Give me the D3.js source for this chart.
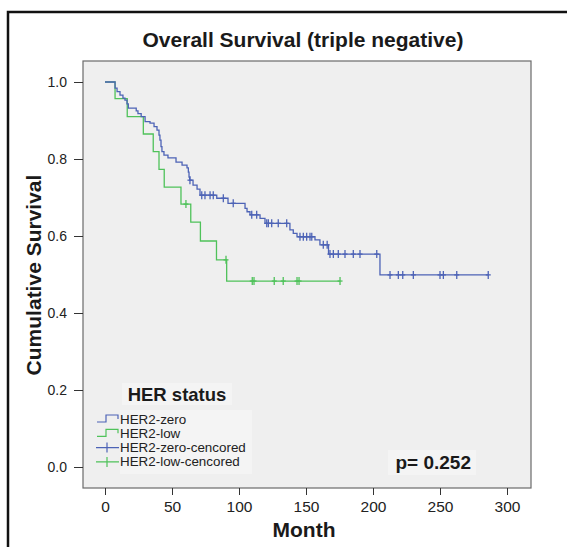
<!DOCTYPE html>
<html>
<head>
<meta charset="utf-8">
<script src="https://cdn.jsdelivr.net/npm/d3@7"></script>
<style>
  html, body { margin: 0; padding: 0; background: #fff; }
  svg { display: block; font-family: "Liberation Sans", Arial, Helvetica, sans-serif; }
  .axis text { fill: #222; }
  .axis line { stroke: #333; }
</style>
</head>
<body>
<svg id="chart" width="567" height="547"></svg>
<script>
"use strict";

// Kaplan-Meier steps: [month, cumulative survival]
const zeroSteps = [
  [0, 1.0], [7.5, 0.984], [9, 0.975], [11.2, 0.966], [13.4, 0.958], [14.9, 0.953],
  [16.4, 0.943], [17.4, 0.932], [23.3, 0.925], [24.6, 0.918], [27, 0.91], [29.9, 0.897],
  [33.6, 0.893], [36.6, 0.884], [38.8, 0.875], [40.3, 0.862], [41, 0.849], [41.8, 0.832],
  [42.5, 0.819], [44, 0.81], [47, 0.803], [53, 0.792], [57.5, 0.784], [61.2, 0.777],
  [62.2, 0.766], [62.7, 0.753], [63.2, 0.745], [65.7, 0.732], [68.7, 0.722], [70.9, 0.706],
  [83.4, 0.698], [91.8, 0.685], [104.5, 0.672], [106, 0.663], [108.2, 0.655], [115.7, 0.646],
  [119.4, 0.633], [138, 0.616], [140.5, 0.607], [143.3, 0.598], [156.7, 0.59], [160.4, 0.577],
  [166.8, 0.553], [205.2, 0.499]
];
const zeroEnd = 286;
const zeroCensored = [
  63.4, 72.2, 74.6, 78.4, 80.8, 88.3, 95.7, 109.5, 113.2, 120.7, 121.9, 124.4, 129.3,
  135.6, 145.5, 148, 150.5, 153, 154.3, 162.9, 165.8, 167.9, 170.4, 174.1, 179.1, 185.3,
  190.3, 202.8, 212.7, 218.9, 222.2, 230.1, 250, 252.5, 262.5, 286
];

const lowSteps = [
  [0, 1.0], [7.5, 0.957], [16.6, 0.91], [28.6, 0.865], [36, 0.819], [40.3, 0.773],
  [44.2, 0.727], [56.7, 0.683], [64, 0.636], [71.2, 0.587], [83.2, 0.538], [90.8, 0.483]
];
const lowEnd = 175.4;
const lowCensored = [60.4, 90.3, 109.9, 111.2, 126.3, 133, 143.3, 144.8, 175.4];

const xTicks = [0, 50, 100, 150, 200, 250, 300];
const yTicks = [0, 0.2, 0.4, 0.6, 0.8, 1.0];
const legendLabels = ["HER2-zero", "HER2-low", "HER2-zero-cencored", "HER2-low-cencored"];

const BLUE = "#4d63b6", GREEN = "#4fc25a";

const svg = d3.select("#chart");
const box = {left: 83, right: 531, top: 61, bottom: 488};

const x = d3.scaleLinear().domain([0, 300]).range([105, 507]);
const y = d3.scaleLinear().domain([0, 1]).range([467, 82]);

// Outer frame (runs off the right and bottom edges).
svg.append("rect")
    .attr("x", 8).attr("y", 12)
    .attr("width", 600).attr("height", 600)
    .attr("fill", "none")
    .attr("stroke", "#111")
    .attr("stroke-width", 2.5);

// Title.
svg.append("text")
    .attr("x", 303).attr("y", 47)
    .attr("text-anchor", "middle")
    .attr("font-size", 21).attr("font-weight", "bold").attr("fill", "#1a1a1a")
    .text("Overall Survival (triple negative)");

// Plot background.
svg.append("rect")
    .attr("x", box.left).attr("y", box.top)
    .attr("width", box.right - box.left).attr("height", box.bottom - box.top)
    .attr("fill", "#efefef")
    .attr("stroke", "#6a6a6a").attr("stroke-width", 1.2);

// Axes.
const yAxis = svg.append("g")
    .attr("class", "axis")
    .attr("transform", "translate(" + box.left + ",0)")
    .call(d3.axisLeft(y).tickValues(yTicks).tickFormat(d3.format(".1f")).tickSize(9).tickPadding(7));
yAxis.select(".domain").remove();
yAxis.attr("font-family", null).attr("font-size", 14);

const xAxis = svg.append("g")
    .attr("class", "axis")
    .attr("transform", "translate(0," + box.bottom + ")")
    .call(d3.axisBottom(x).tickValues(xTicks).tickFormat(d3.format("d")).tickSize(7).tickPadding(6));
xAxis.select(".domain").remove();
xAxis.attr("font-family", null).attr("font-size", 15.5);

// Axis titles.
svg.append("text")
    .attr("x", 304).attr("y", 537)
    .attr("text-anchor", "middle")
    .attr("font-size", 21).attr("font-weight", "bold").attr("fill", "#1a1a1a")
    .text("Month");

svg.append("text")
    .attr("transform", "translate(41,275) rotate(-90)")
    .attr("text-anchor", "middle")
    .attr("font-size", 21).attr("font-weight", "bold").attr("fill", "#1a1a1a")
    .text("Cumulative Survival");

// Survival value at time t for a step list.
const survAt = (steps, t) => {
  let s = steps[0][1];
  steps.forEach((d) => { if (d[0] <= t) s = d[1]; });
  return s;
};

const line = d3.line()
    .x((d) => x(d[0]))
    .y((d) => y(d[1]))
    .curve(d3.curveStepAfter);

const drawCurve = (steps, end, censored, color) => {
  const pts = steps.concat([[end, steps[steps.length - 1][1]]]);
  svg.append("path")
      .datum(pts)
      .attr("d", line)
      .attr("fill", "none")
      .attr("stroke", color)
      .attr("stroke-width", 1.3);

  const marks = svg.append("g").selectAll("g")
      .data(censored)
      .enter().append("g")
      .attr("transform", (d) => "translate(" + x(d) + "," + y(survAt(steps, d)) + ")");
  marks.append("line")
      .attr("x1", 0).attr("x2", 0).attr("y1", -4).attr("y2", 4)
      .attr("stroke", color).attr("stroke-width", 1.3);
  marks.append("line")
      .attr("x1", -2.5).attr("x2", 2.5).attr("y1", 0).attr("y2", 0)
      .attr("stroke", color).attr("stroke-width", 1.3);
};

drawCurve(lowSteps, lowEnd, lowCensored, GREEN);
drawCurve(zeroSteps, zeroEnd, zeroCensored, BLUE);

// Legend.
svg.append("rect")
    .attr("x", 122).attr("y", 383).attr("width", 110).attr("height", 22)
    .attr("fill", "#f4f4f4");
svg.append("rect")
    .attr("x", 120).attr("y", 410).attr("width", 132).attr("height", 64)
    .attr("fill", "#f4f4f4");

svg.append("text")
    .attr("x", 177).attr("y", 401)
    .attr("text-anchor", "middle")
    .attr("font-size", 18.5).attr("font-weight", "bold").attr("fill", "#1a1a1a")
    .text("HER status");

const legendColors = [BLUE, GREEN, BLUE, GREEN];
const legendRow = svg.append("g").selectAll("g")
    .data(legendLabels)
    .enter().append("g")
    .attr("transform", (d, i) => "translate(0," + (419 + i * 14.3) + ")");

legendRow.append("text")
    .attr("x", 120).attr("y", 4.5)
    .attr("font-size", 13.4).attr("fill", "#222")
    .text((d) => d);

legendRow.filter((d, i) => i < 2).append("path")
    .attr("d", "M97,3 H106 V-4 H118 V0")
    .attr("fill", "none")
    .attr("stroke", (d, i) => legendColors[i])
    .attr("stroke-width", 1.2);

legendRow.filter((d, i) => i >= 2).append("path")
    .attr("d", "M96,0 H119 M107,-5 V5")
    .attr("fill", "none")
    .attr("stroke", (d, i) => legendColors[i + 2])
    .attr("stroke-width", 1.2);

// p-value.
svg.append("rect")
    .attr("x", 388).attr("y", 450).attr("width", 88).attr("height", 25)
    .attr("fill", "#f4f4f4");
svg.append("text")
    .attr("x", 471).attr("y", 469)
    .attr("text-anchor", "end")
    .attr("font-size", 19).attr("font-weight", "bold").attr("fill", "#1a1a1a")
    .text("p= 0.252");
</script>
</body>
</html>
